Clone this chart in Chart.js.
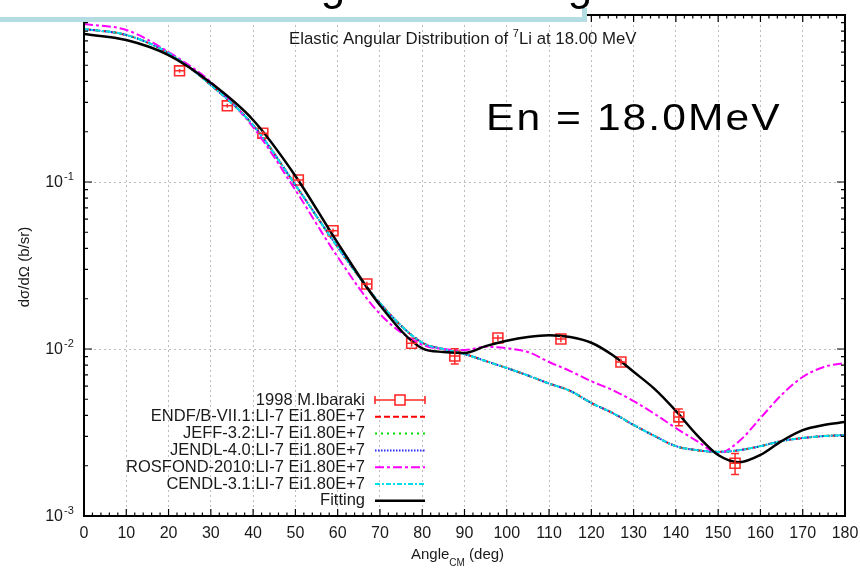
<!DOCTYPE html>
<html>
<head>
<meta charset="utf-8">
<script src="https://cdn.jsdelivr.net/npm/chart.js@4.4.1/dist/chart.umd.min.js"></script>
<style>
  html, body { margin: 0; padding: 0; background: #fff; }
</style>
</head>
<body>
<canvas id="elastic" width="860" height="568"></canvas>
<script>
// ---- data ----
// angle grid (deg, CM) used by the evaluated curves and the fit
const angles = [0, 10, 20, 30, 40, 50, 60, 70, 80, 85, 90, 95, 100, 105, 110, 115, 120,
                125, 130, 135, 140, 145, 150, 155, 160, 165, 170, 175, 180];

// Legendre fit to the measurement
const fitting = [0.769, 0.708, 0.575, 0.392, 0.235, 0.1087, 0.0432, 0.0183, 0.0101, 0.0096,
                 0.00946, 0.0104, 0.0112, 0.0118, 0.0121, 0.0118, 0.0109, 0.0092, 0.0073,
                 0.00575, 0.00426, 0.00305, 0.00232, 0.00210, 0.00232, 0.00281, 0.00327,
                 0.00351, 0.00365];

// ENDF/B-VII.1, JEFF-3.2, JENDL-4.0 and CENDL-3.1 carry the same Li-7 evaluation here
const endf = [0.824, 0.759, 0.592, 0.381, 0.219, 0.0960, 0.0408, 0.0188, 0.0109, 0.0100,
              0.00933, 0.00847, 0.00769, 0.00694, 0.00621, 0.00561, 0.00475, 0.00414, 0.00351,
              0.00301, 0.00262, 0.00248, 0.00242, 0.00248, 0.00262, 0.00281, 0.00293,
              0.00301, 0.00305];
const jeff = endf;
const jendl = endf;
const cendl = endf;

const rosfond = [0.883, 0.813, 0.600, 0.397, 0.213, 0.0895, 0.0356, 0.0162, 0.0106, 0.0100,
                 0.00986, 0.0103, 0.0101, 0.00959, 0.00836, 0.00738, 0.00640, 0.00568, 0.00488,
                 0.00408, 0.00336, 0.00281, 0.00238, 0.00281, 0.00386, 0.00531, 0.00680,
                 0.00780, 0.00825];

// 1998 M.Ibaraki measurement
const expAngle = [22.6, 33.9, 42.3, 50.7, 58.9, 66.9, 77.5, 87.7, 97.9, 112.8, 127.0, 140.7, 154.0];
const expValue = [0.463, 0.286, 0.196, 0.1028, 0.0511, 0.0245, 0.01081, 0.00908, 0.01164,
                  0.01148, 0.00836, 0.00392, 0.00207];
const expError = [0.012, 0.008, 0.006, 0.003, 0.0015, 0.0008, 0.0005, 0.00095, 0.0005,
                  0.0005, 0.0004, 0.00045, 0.0003];
const expAngleErr = 1.2;

// axis labels
const xTicks = [0, 10, 20, 30, 40, 50, 60, 70, 80, 90, 100, 110, 120, 130, 140, 150, 160, 170, 180];
const yDecades = [-3, -2, -1];

const FONT = "'Liberation Sans', Arial, sans-serif";

const pts = (xs, ys) => xs.map((a, i) => ({ x: a, y: ys[i] }));

function lineSet(label, values, color, dash, width, order) {
  return {
    label: label,
    data: pts(angles, values),
    showLine: true,
    borderColor: color,
    borderWidth: width,
    borderDash: dash,
    pointRadius: 0,
    cubicInterpolationMode: 'monotone',
    fill: false,
    order: order
  };
}

function label(ctx, str, x, y, size, align, base) {
  ctx.font = size + 'px ' + FONT;
  ctx.textAlign = align || 'left';
  ctx.textBaseline = base || 'alphabetic';
  ctx.fillText(str, x, y);
}

// gnuplot-like frame, inward ticks, labels, legend and slide leftovers
const decor = {
  id: 'decor',
  beforeDraw(chart) {
    const ctx = chart.ctx;
    ctx.save();
    ctx.fillStyle = '#fff';
    ctx.fillRect(0, 0, chart.width, chart.height);
    ctx.restore();
  },
  afterDatasetsDraw(chart) {
    const { ctx, chartArea: a, scales: { x, y } } = chart;
    const exp = chart.data.datasets[0];
    ctx.save();

    // error bars
    ctx.strokeStyle = exp.borderColor;
    ctx.lineWidth = 1.5;
    expAngle.forEach((ang, i) => {
      const px = x.getPixelForValue(ang);
      const py = y.getPixelForValue(expValue[i]);
      const lo = y.getPixelForValue(expValue[i] - expError[i]);
      const hi = y.getPixelForValue(expValue[i] + expError[i]);
      ctx.beginPath();
      ctx.moveTo(px, lo); ctx.lineTo(px, hi);
      ctx.moveTo(x.getPixelForValue(ang - expAngleErr), py);
      ctx.lineTo(x.getPixelForValue(ang + expAngleErr), py);
      if (lo - hi > 12) {
        ctx.moveTo(px - 4, lo); ctx.lineTo(px + 4, lo);
        ctx.moveTo(px - 4, hi); ctx.lineTo(px + 4, hi);
      }
      ctx.stroke();
    });

    // frame
    ctx.strokeStyle = '#000';
    ctx.lineWidth = 2;
    ctx.strokeRect(a.left, a.top, a.right - a.left, a.bottom - a.top);

    // inward ticks
    ctx.lineWidth = 1.2;
    ctx.beginPath();
    for (let v = 0; v <= 180; v += 2) {
      const px = x.getPixelForValue(v);
      const len = v % 10 === 0 ? 7 : 3.5;
      ctx.moveTo(px, a.bottom); ctx.lineTo(px, a.bottom - len);
      ctx.moveTo(px, a.top); ctx.lineTo(px, a.top + len);
    }
    yDecades.forEach(e => {
      for (let m = 1; m <= 9; m++) {
        const py = y.getPixelForValue(m * Math.pow(10, e));
        const len = m === 1 ? 8 : 4;
        ctx.moveTo(a.left, py); ctx.lineTo(a.left + len, py);
        ctx.moveTo(a.right, py); ctx.lineTo(a.right - len, py);
      }
    });
    ctx.stroke();

    // tick labels
    ctx.fillStyle = '#1a1a1a';
    xTicks.forEach(v => label(ctx, String(v), x.getPixelForValue(v), 534, 16, 'center', 'middle'));
    yDecades.forEach(e => {
      const py = y.getPixelForValue(Math.pow(10, e));
      label(ctx, '10', 63, py + 1, 16, 'right', 'middle');
      label(ctx, String(e), 64, py - 5, 11, 'left', 'middle');
    });

    // axis titles
    ctx.save();
    ctx.translate(25, 267);
    ctx.rotate(-Math.PI / 2);
    label(ctx, 'd\u03c3/d\u03a9 (b/sr)', 0, 0, 15, 'center', 'middle');
    ctx.restore();
    let tx = 411;
    label(ctx, 'Angle', tx, 559, 15);
    tx += ctx.measureText('Angle').width;
    label(ctx, 'CM', tx, 566, 10);
    tx += ctx.measureText('CM').width;
    label(ctx, ' (deg)', tx, 559, 15);

    // plot title
    tx = 289;
    label(ctx, 'Elastic Angular Distribution of ', tx, 44, 16.8);
    tx += ctx.measureText('Elastic Angular Distribution of ').width;
    label(ctx, '7', tx, 37, 11);
    tx += ctx.measureText('7').width;
    label(ctx, 'Li at 18.00 MeV', tx, 44, 16.8);

    // legend
    chart.data.datasets.forEach((ds, i) => {
      const ly = 400 + i * 16.8;
      ctx.fillStyle = '#1a1a1a';
      label(ctx, ds.label, 365, ly, 16.5, 'right', 'middle');
      ctx.strokeStyle = ds.borderColor;
      ctx.lineWidth = ds.borderWidth;
      ctx.setLineDash(ds.borderDash || []);
      ctx.beginPath();
      ctx.moveTo(375, ly); ctx.lineTo(425, ly);
      if (!ds.showLine) {
        ctx.moveTo(375, ly - 4); ctx.lineTo(375, ly + 4);
        ctx.moveTo(425, ly - 4); ctx.lineTo(425, ly + 4);
      }
      ctx.stroke();
      ctx.setLineDash([]);
      if (!ds.showLine) {
        ctx.fillStyle = '#fff';
        ctx.fillRect(395, ly - 5, 10, 10);
        ctx.strokeRect(395, ly - 5, 10, 10);
      }
    });

    // energy annotation
    ctx.fillStyle = '#000';
    ctx.save();
    ctx.translate(486, 129.5);
    ctx.scale(1.15, 1);
    ctx.letterSpacing = '1.8px';
    label(ctx, 'En = 18.0MeV', 0, 0, 37);
    ctx.restore();

    // slide box edge across the top
    ctx.fillStyle = '#fff';
    ctx.fillRect(0, 0, 585, 17);
    ctx.fillStyle = '#b3dde3';
    ctx.fillRect(0, 17, 587, 5);
    ctx.fillRect(582, 8, 5, 14);
    ctx.fillStyle = '#000';
    label(ctx, 'g', 333, 0, 44, 'center');
    label(ctx, 'g', 580, 0, 44, 'center');

    ctx.restore();
  }
};

const gridColor = '#bdbdbd';

new Chart(document.getElementById('elastic'), {
  type: 'scatter',
  data: {
    datasets: [
      {
        label: '1998 M.Ibaraki',
        data: pts(expAngle, expValue),
        showLine: false,
        borderColor: '#ff2a2a',
        backgroundColor: 'rgba(255,255,255,0)',
        borderWidth: 1.6,
        pointStyle: 'rect',
        pointRadius: 7,
        order: 6
      },
      lineSet('ENDF/B-VII.1:LI-7 Ei1.80E+7', endf, '#ff0000', [6, 3], 2, 5),
      lineSet('JEFF-3.2:LI-7 Ei1.80E+7', jeff, '#00dd00', [2, 4], 2, 4),
      lineSet('JENDL-4.0:LI-7 Ei1.80E+7', jendl, '#2a2aff', [1.5, 1.5], 2, 3),
      lineSet('ROSFOND-2010:LI-7 Ei1.80E+7', rosfond, '#ff00ff', [9, 3, 3, 3], 2, 2),
      lineSet('CENDL-3.1:LI-7 Ei1.80E+7', cendl, '#00e0e8', [5, 2, 2, 2], 2, 1),
      lineSet('Fitting', fitting, '#000000', [], 2.5, 0)
    ]
  },
  options: {
    responsive: false,
    animation: false,
    events: [],
    layout: {
      padding: { top: 15, right: 15, left: 0, bottom: 0 }
    },
    plugins: {
      legend: { display: false },
      tooltip: { enabled: false }
    },
    scales: {
      x: {
        type: 'linear',
        min: 0,
        max: 180,
        ticks: { stepSize: 10, display: false },
        grid: { color: gridColor, lineWidth: 1, drawTicks: false },
        border: { display: false, dash: [2, 3] },
        afterFit: s => { s.height = 52; }
      },
      y: {
        type: 'logarithmic',
        min: 0.001,
        max: 1,
        ticks: { display: false },
        grid: {
          drawTicks: false,
          lineWidth: 1,
          color: c => {
            const l = Math.log10(c.tick.value);
            return Math.abs(l - Math.round(l)) < 1e-6 ? gridColor : 'rgba(0,0,0,0)';
          }
        },
        border: { display: false, dash: [2, 3] },
        afterFit: s => { s.width = 84; }
      }
    }
  },
  plugins: [decor]
});
</script>
</body>
</html>
